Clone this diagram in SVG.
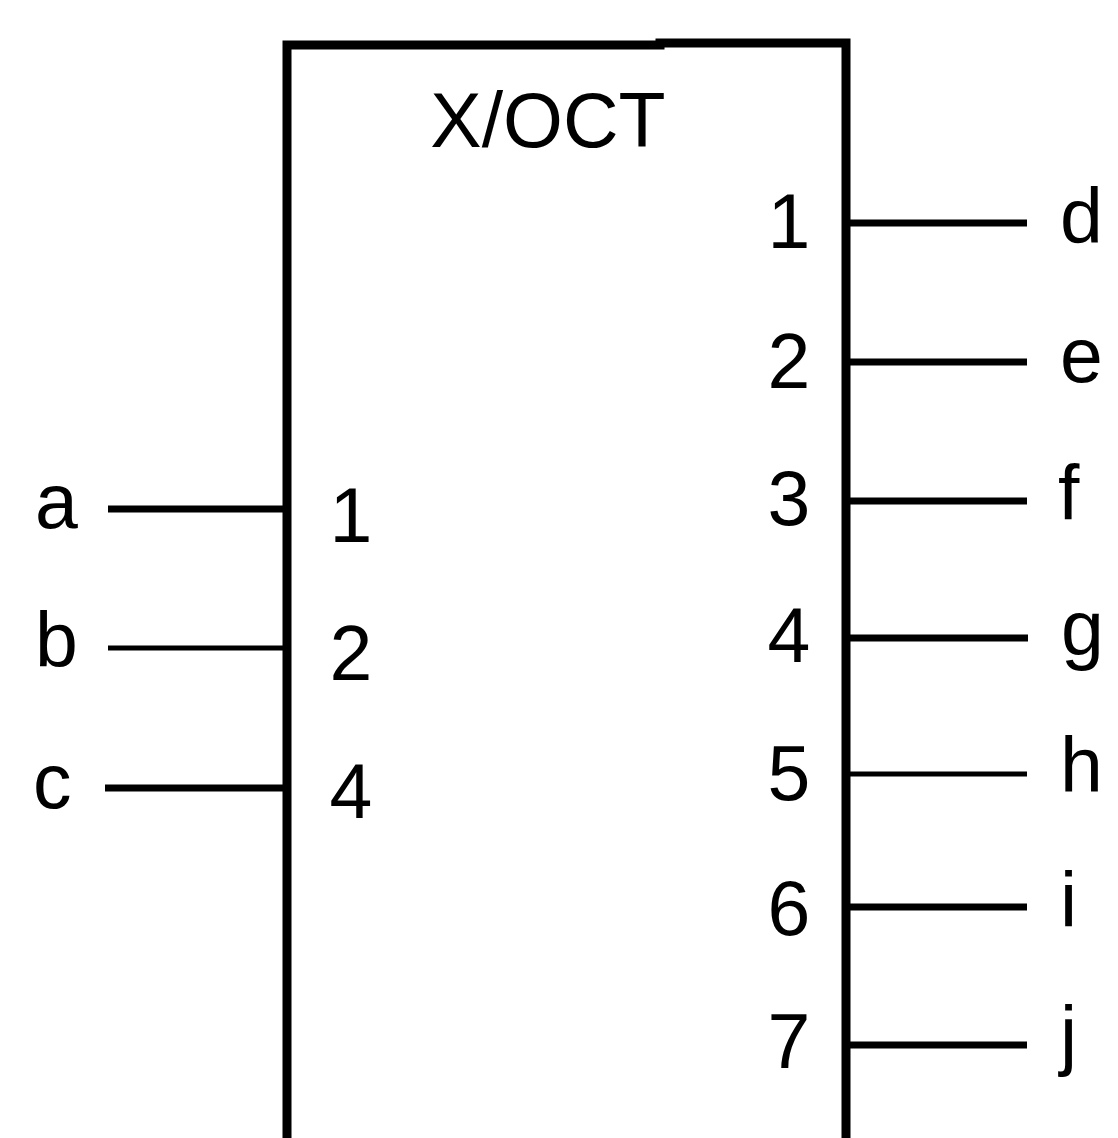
<svg xmlns="http://www.w3.org/2000/svg" width="1118" height="1138" viewBox="0 0 1118 1138">
<style>
text{font-family:"Liberation Sans",Arial,sans-serif;fill:#000;font-size:77px}
.num{text-anchor:middle}
.ln{stroke:#000;stroke-width:7;fill:none}
.thin{stroke-width:5}
.box{stroke:#000;stroke-width:9;fill:#fff}
</style>
<rect width="1118" height="1138" fill="#fff"/>
<g id="block">
<path class="box" d="M287,1145 V45 H660 V43 H846 V1145"/>
<text x="548" y="147" font-size="80" text-anchor="middle">X/OCT</text>
<text class="num" x="351" y="542">1</text>
<text class="num" x="351" y="680">2</text>
<text class="num" x="351" y="818">4</text>
<text class="num" x="789" y="248">1</text>
<text class="num" x="789" y="388">2</text>
<text class="num" x="789" y="525">3</text>
<text class="num" x="789" y="662">4</text>
<text class="num" x="789" y="800">5</text>
<text class="num" x="789" y="935">6</text>
<text class="num" x="789" y="1068">7</text>
</g>
<g id="inputs">
<text x="35" y="528">a</text>
<text x="35" y="667">b</text>
<text x="33" y="808">c</text>
</g>
<g id="outputs">
<text x="1060" y="243">d</text>
<text x="1060" y="382">e</text>
<text x="1058" y="520">f</text>
<text x="1061" y="655">g</text>
<text x="1060" y="792">h</text>
<text x="1060" y="927">i</text>
<text x="1060" y="1061">j</text>
</g>
<g id="connectors">
<line class="ln" x1="108" y1="509" x2="287" y2="509"/>
<line class="ln thin" x1="108" y1="648" x2="287" y2="648"/>
<line class="ln" x1="105" y1="788" x2="287" y2="788"/>
<line class="ln" x1="846" y1="223" x2="1027" y2="223"/>
<line class="ln" x1="846" y1="362" x2="1027" y2="362"/>
<line class="ln" x1="846" y1="501" x2="1027" y2="501"/>
<line class="ln" x1="846" y1="638" x2="1028" y2="638"/>
<line class="ln thin" x1="846" y1="774" x2="1027" y2="774"/>
<line class="ln" x1="846" y1="907" x2="1027" y2="907"/>
<line class="ln" x1="846" y1="1045" x2="1027" y2="1045"/>
</g>
</svg>
